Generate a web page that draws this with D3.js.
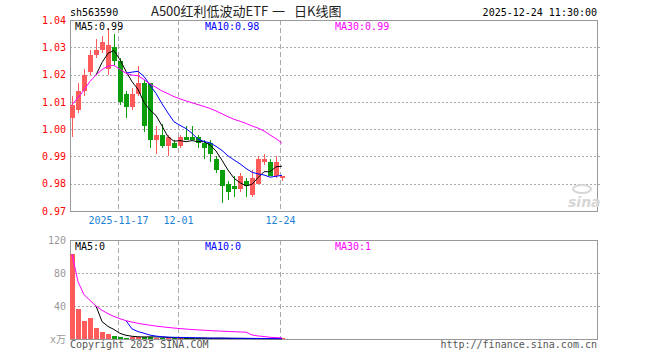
<!DOCTYPE html>
<html>
<head>
<meta charset="utf-8">
<script src="https://cdn.jsdelivr.net/npm/d3@7"></script>
<style>
body { margin: 0; background: #fff; }
svg { display: block; }
text { font-family: "DejaVu Sans Mono", "Liberation Mono", monospace; font-size: 10px; }
</style>
</head>
<body>
<script>
// Daily K-line of sh563590.

const dates = [
    "2025-11-05", "2025-11-06", "2025-11-07", "2025-11-10", "2025-11-11", "2025-11-12",
    "2025-11-13", "2025-11-14", "2025-11-17", "2025-11-18", "2025-11-19", "2025-11-20",
    "2025-11-21", "2025-11-24", "2025-11-25", "2025-11-26", "2025-11-27", "2025-11-28",
    "2025-12-01", "2025-12-02", "2025-12-03", "2025-12-04", "2025-12-05", "2025-12-08",
    "2025-12-09", "2025-12-10", "2025-12-11", "2025-12-12", "2025-12-15", "2025-12-16",
    "2025-12-17", "2025-12-18", "2025-12-19", "2025-12-22", "2025-12-23", "2025-12-24"
];
const opens = [
    1.004, 1.007, 1.014, 1.021, 1.027, 1.029, 1.022, 1.030, 1.025, 1.013, 1.008, 1.013,
    1.017, 1.017, 0.996, 0.998, 0.994, 0.995, 0.994, 0.997, 0.997, 0.997, 0.995, 0.995,
    0.989, 0.985, 0.980, 0.979, 0.978, 0.981, 0.976, 0.980, 0.988, 0.988, 0.983, 0.982
];
const highs = [
    1.012, 1.017, 1.022, 1.029, 1.033, 1.034, 1.037, 1.035, 1.026, 1.014, 1.015, 1.023,
    1.018, 1.017, 1.001, 1.002, 0.998, 0.996, 0.998, 1.001, 1.001, 0.998, 0.996, 0.996,
    0.990, 0.985, 0.981, 0.983, 0.984, 0.982, 0.985, 0.990, 0.991, 0.989, 0.990, 0.983
];
const lows = [
    0.997, 1.006, 1.012, 1.020, 1.026, 1.028, 1.020, 1.023, 1.009, 1.004, 1.007, 1.012,
    0.999, 0.993, 0.991, 0.993, 0.990, 0.993, 0.993, 0.996, 0.996, 0.993, 0.989, 0.988,
    0.984, 0.973, 0.974, 0.975, 0.977, 0.975, 0.975, 0.980, 0.987, 0.983, 0.982, 0.981
];
const closes = [
    1.009, 1.014, 1.020, 1.027, 1.029, 1.032, 1.031, 1.025, 1.010, 1.008, 1.013, 1.017,
    1.001, 0.996, 0.998, 0.994, 0.997, 0.993, 0.997, 0.996, 0.996, 0.995, 0.993, 0.991,
    0.985, 0.979, 0.977, 0.978, 0.983, 0.979, 0.982, 0.989, 0.989, 0.983, 0.988, 0.983
];
// volume, in 万
const volumes = [
    103, 36, 22, 26, 13, 9, 6, 3.6, 2.4, 1.5, 3.0, 3.0,
    2.5, 3.0, 1.2, 1.5, 1.2, 1.0, 1.0, 0.8, 0.8, 1.5, 0.8, 0.8,
    0.8, 1.2, 0.6, 0.5, 0.5, 0.5, 0.4, 0.4, 0.3, 0.4, 0.3, 0.3
];

const priceTicks = [0.97, 0.98, 0.99, 1.00, 1.01, 1.02, 1.03, 1.04];
const volumeTicks = [0, 40, 80, 120];
const dateTicks = ["2025-11-17", "2025-12-01", "2025-12-24"];
const dateTickLabels = ["2025-11-17", "12-01", "12-24"];
const titleParts = ["A500红利低波动ETF", "一", "日K线图"];

const SLOTS = 88;
const RED = "#ff5b5b";
const GREEN = "#0a9e0a";
const GRID = "#aaa";
const FRAME = "#999";
const MA_COLORS = { 5: "#000", 10: "#0000ff", 30: "#ff00ff" };

const width = 660, height = 360;
const left = 70, right = 597;
const priceTop = 20, priceBottom = 211;
const volTop = 240, volBottom = 339;

const svg = d3.select("body").append("svg")
    .attr("width", width)
    .attr("height", height);

const x = d3.scaleBand().domain(d3.range(SLOTS)).range([69.5, 597.5]);
const cx = i => x(i) + 3;
const yPrice = d3.scaleLinear().domain([0.97, 1.04]).range([priceBottom, priceTop]);
const yVol = d3.scaleLinear().domain([0, 120]).range([volBottom, volTop]);

const bars = dates.map((d, i) => ({
    i, date: d, open: opens[i], high: highs[i], low: lows[i], close: closes[i],
    volume: volumes[i], up: closes[i] >= opens[i]
}));

// moving average; MA30 falls back to whatever history exists (as the source does)
function movingAverage(values, n, partial) {
    return values.map((_, i) => {
        if (i < n - 1 && !partial) return null;
        const from = Math.max(0, i - n + 1);
        return d3.mean(values.slice(from, i + 1));
    });
}

// ---- header ----
svg.append("text").attr("x", left).attr("y", 16).attr("fill", "#000").text("sh563590");
const title = svg.append("text").attr("y", 16)
    .attr("fill", "#222")
    .style("font-family", "'Noto Sans CJK SC', sans-serif")
    .style("font-size", "13px");
title.selectAll("tspan")
    .data(titleParts)
    .join("tspan")
    .attr("x", (d, k) => [151, 272, 294][k])
    .text(d => d);
svg.append("text").attr("x", right).attr("y", 16).attr("text-anchor", "end")
    .attr("fill", "#000").text("2025-12-24 11:30:00");

// ---- panels ----
function drawPanel(top, bottom, y, ticks) {
    const g = svg.append("g");
    g.selectAll("line.h")
        .data(ticks.filter(t => y(t) > top + 1 && y(t) < bottom - 1))
        .join("line")
        .attr("x1", left).attr("x2", 600)
        .attr("y1", d => Math.round(y(d)) + 0.5).attr("y2", d => Math.round(y(d)) + 0.5)
        .attr("stroke", GRID).attr("stroke-dasharray", "2,2");
    g.selectAll("line.v")
        .data(dateTicks)
        .join("line")
        .attr("x1", d => x(dates.indexOf(d)) + 1).attr("x2", d => x(dates.indexOf(d)) + 1)
        .attr("y1", top).attr("y2", bottom)
        .attr("stroke", GRID).attr("stroke-dasharray", "5,3");
    g.append("rect")
        .attr("x", left + 0.5).attr("y", top + 0.5)
        .attr("width", right - left).attr("height", bottom - top)
        .attr("fill", "none").attr("stroke", FRAME);
    return g;
}

drawPanel(priceTop, priceBottom, yPrice, priceTicks);
drawPanel(volTop, volBottom, yVol, volumeTicks);

// watermark
const logo = svg.append("g").attr("fill", "#d6d6d6");
logo.append("ellipse").attr("cx", 582).attr("cy", 189).attr("rx", 9).attr("ry", 4)
    .attr("fill", "none").attr("stroke", "#d6d6d6").attr("stroke-width", 2);
logo.append("text").attr("x", 568).attr("y", 207)
    .style("font-family", "'DejaVu Sans', sans-serif")
    .style("font-size", "14px").style("font-weight", "bold").style("font-style", "italic")
    .text("sina");

// ---- axes ----
const priceAxis = svg.append("g")
    .attr("transform", `translate(${left},0)`)
    .call(d3.axisLeft(yPrice).tickValues(priceTicks).tickFormat(d3.format(".2f"))
        .tickSize(0).tickPadding(4));
priceAxis.select(".domain").remove();
priceAxis.selectAll("text").attr("fill", "#f00")
    .style("font-family", "'DejaVu Sans Mono', monospace").style("font-size", "10px");

const volAxis = svg.append("g")
    .attr("transform", `translate(${left},0)`)
    .call(d3.axisLeft(yVol).tickValues(volumeTicks).tickFormat(d => d === 0 ? "x万" : d)
        .tickSize(0).tickPadding(4));
volAxis.select(".domain").remove();
volAxis.selectAll("text").attr("fill", "#999")
    .style("font-family", "'DejaVu Sans Mono', 'Noto Sans CJK SC', monospace").style("font-size", "10px");

svg.append("g").selectAll("text")
    .data(dateTicks)
    .join("text")
    .attr("x", d => x(dates.indexOf(d)) + 1)
    .attr("y", 224)
    .attr("text-anchor", "middle")
    .attr("fill", "#1b7fd6")
    .text((d, k) => dateTickLabels[k]);

// ---- candles ----
const candles = svg.append("g")
    .selectAll("g")
    .data(bars)
    .join("g")
    .attr("shape-rendering", "crispEdges");

candles.append("line")
    .attr("x1", d => cx(d.i) - 0.5).attr("x2", d => cx(d.i) - 0.5)
    .attr("y1", d => yPrice(d.high)).attr("y2", d => yPrice(d.low))
    .attr("stroke", d => d.up ? RED : GREEN);

candles.append("rect")
    .attr("x", d => x(d.i) + 0.5)
    .attr("width", 5)
    .attr("y", d => yPrice(Math.max(d.open, d.close)))
    .attr("height", d => Math.max(1, Math.abs(yPrice(d.open) - yPrice(d.close))))
    .attr("fill", d => d.up ? RED : GREEN);

// ---- volume bars ----
svg.append("g")
    .attr("shape-rendering", "crispEdges")
    .selectAll("rect")
    .data(bars)
    .join("rect")
    .attr("x", d => x(d.i) + 0.5)
    .attr("width", 5)
    .attr("y", d => Math.min(yVol(d.volume), volBottom - 1))
    .attr("height", d => Math.max(1, volBottom - yVol(d.volume)))
    .attr("fill", d => d.up ? RED : GREEN);

// ---- moving averages ----
function drawMA(values, y, top, labelFormat) {
    const specs = [[5, false], [10, false], [30, true]];
    const labelX = { 5: 75, 10: 205, 30: 335 };
    specs.forEach(([n, partial]) => {
        const ma = movingAverage(values, n, partial);
        const line = d3.line()
            .defined(v => v != null)
            .x((v, i) => cx(i) - 0.5)
            .y(v => y(v));
        svg.append("path")
            .datum(ma)
            .attr("d", line)
            .attr("fill", "none")
            .attr("stroke", MA_COLORS[n])
            .attr("stroke-width", 1);
        svg.append("text")
            .attr("x", labelX[n]).attr("y", top + 9.5)
            .attr("fill", MA_COLORS[n])
            .text(`MA${n}:${labelFormat(ma[ma.length - 1])}`);
    });
}

drawMA(closes, yPrice, priceTop, v => v.toFixed(2));
drawMA(volumes, yVol, volTop, v => v.toFixed(0));

// ---- footer ----
svg.append("text").attr("x", left).attr("y", 348).attr("fill", "#555")
    .text("Copyright 2025 SINA.COM");
svg.append("text").attr("x", right).attr("y", 348).attr("text-anchor", "end")
    .attr("fill", "#555").text("http://finance.sina.com.cn");
</script>
</body>
</html>
